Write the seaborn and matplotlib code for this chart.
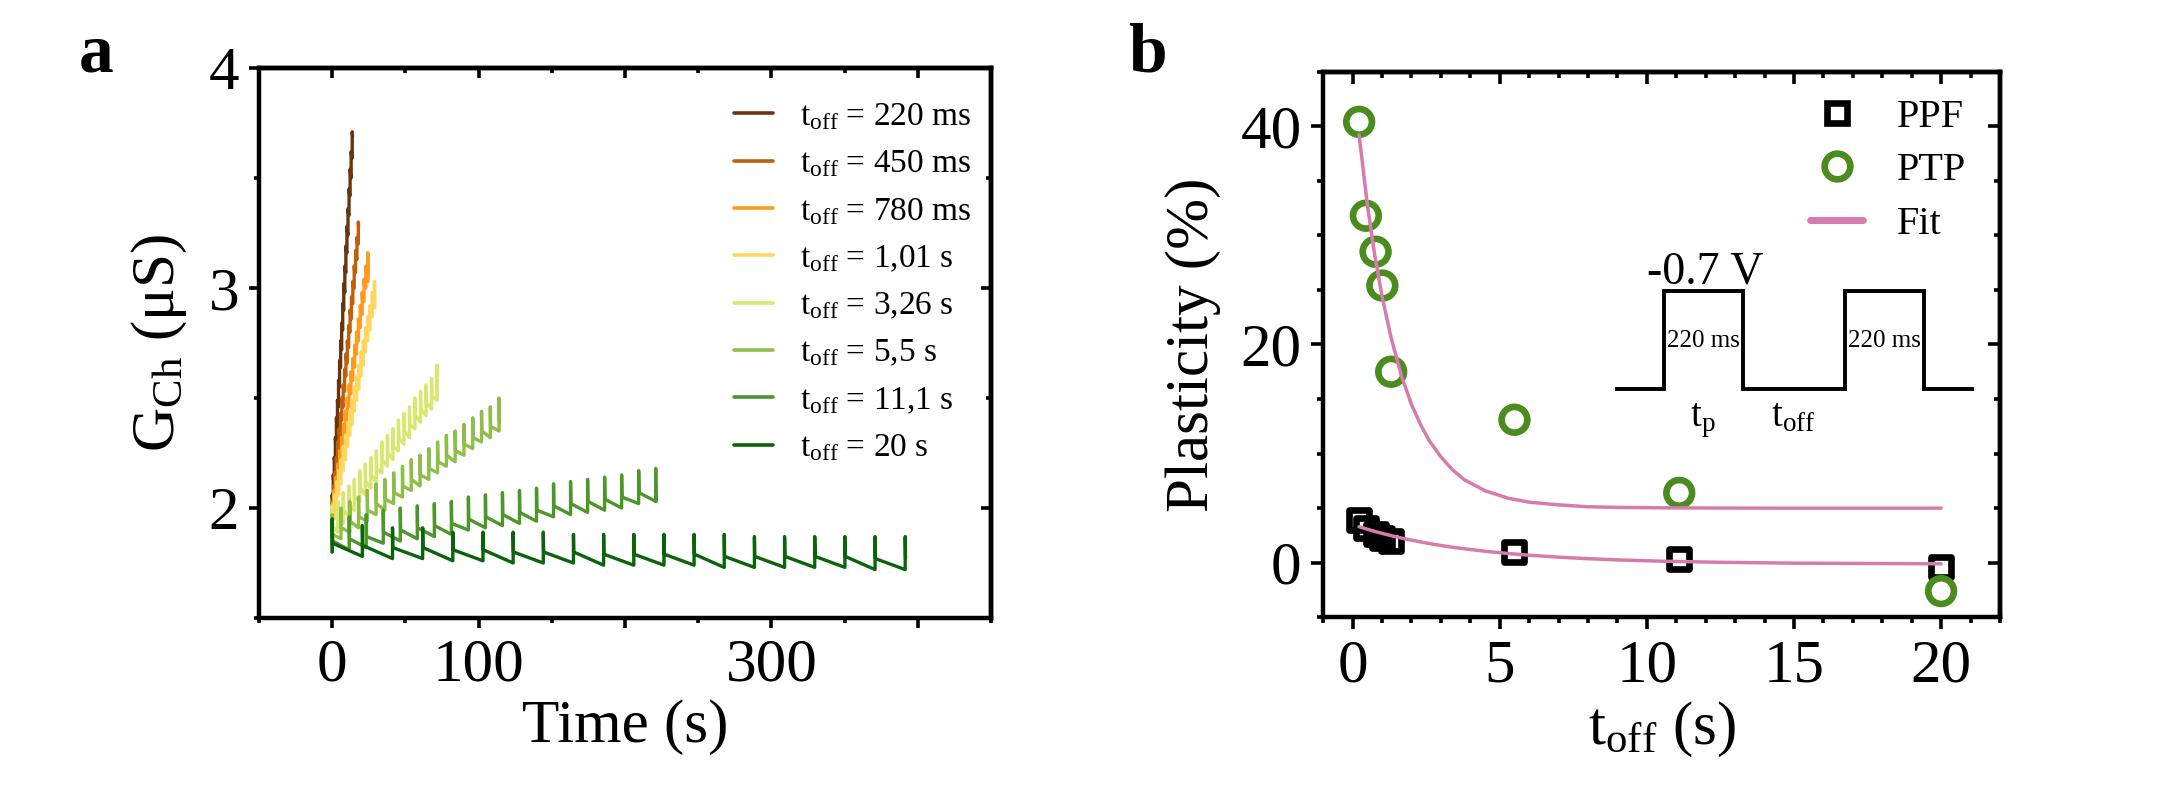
import numpy as np
import pandas as pd
import seaborn as sns
import matplotlib.pyplot as plt
from matplotlib.lines import Line2D
from matplotlib.ticker import MultipleLocator

sns.set_theme(style='ticks')
plt.rcParams['font.family'] = ['Liberation Serif', 'DejaVu Serif']
plt.rcParams['mathtext.fontset'] = 'custom'
plt.rcParams['mathtext.rm'] = 'Liberation Serif'
plt.rcParams['mathtext.it'] = 'Liberation Serif:italic'
plt.rcParams['mathtext.bf'] = 'Liberation Serif:bold'
plt.rcParams.update({'text.color': 'black', 'axes.labelcolor': 'black',
                     'xtick.color': 'black', 'ytick.color': 'black',
                     'axes.edgecolor': 'black'})

# ---------------- panel a: conductance under pulse trains ----------------
series_labels = ['220 ms', '450 ms', '780 ms', '1,01 s', '3,26 s', '5,5 s', '11,1 s', '20 s']
series_colors = ['#673610', '#C0600B', '#FF9A1E', '#FFD75E',
                 '#D8E86E', '#8FBE48', '#4C962A', '#0A640A']
# time between pulse onsets (s), read from spike spacing
pulse_period = [0.72, 0.94, 1.28, 1.52, 3.77, 6.0, 11.63, 20.6]
pulse_width = 0.22

# level just before each pulse, at the pulse top, and right after the pulse (uS)
base_220 = [1.94, 2.03, 2.11, 2.20, 2.29, 2.37, 2.46, 2.55, 2.64, 2.72,
            2.81, 2.90, 2.98, 3.07, 3.16, 3.24, 3.33, 3.42, 3.50, 3.59]
peak_220 = [2.06, 2.15, 2.23, 2.32, 2.41, 2.49, 2.58, 2.67, 2.76, 2.84,
            2.93, 3.02, 3.10, 3.19, 3.28, 3.36, 3.45, 3.54, 3.62, 3.71]
rest_220 = [2.04, 2.13, 2.21, 2.30, 2.39, 2.47, 2.56, 2.65, 2.74, 2.82,
            2.91, 3.00, 3.08, 3.17, 3.26, 3.34, 3.43, 3.52, 3.60, 3.69]

base_450 = [1.93, 2.00, 2.06, 2.13, 2.20, 2.26, 2.33, 2.40, 2.46, 2.53,
            2.60, 2.66, 2.73, 2.80, 2.86, 2.93, 3.00, 3.07, 3.13, 3.20]
peak_450 = [2.03, 2.10, 2.16, 2.23, 2.30, 2.36, 2.43, 2.50, 2.56, 2.63,
            2.70, 2.76, 2.83, 2.90, 2.96, 3.03, 3.10, 3.17, 3.23, 3.30]
rest_450 = [2.01, 2.08, 2.14, 2.21, 2.28, 2.34, 2.41, 2.48, 2.54, 2.61,
            2.68, 2.74, 2.81, 2.88, 2.94, 3.01, 3.08, 3.15, 3.21, 3.28]

base_780 = [1.92, 1.98, 2.04, 2.10, 2.16, 2.22, 2.28, 2.34, 2.40, 2.46,
            2.52, 2.58, 2.64, 2.70, 2.76, 2.82, 2.88, 2.94, 3.00, 3.06]
peak_780 = [2.02, 2.08, 2.14, 2.20, 2.26, 2.32, 2.38, 2.44, 2.50, 2.56,
            2.62, 2.68, 2.74, 2.80, 2.86, 2.92, 2.98, 3.04, 3.10, 3.16]
rest_780 = [1.99, 2.05, 2.11, 2.17, 2.23, 2.29, 2.35, 2.41, 2.47, 2.53,
            2.59, 2.65, 2.71, 2.77, 2.83, 2.89, 2.95, 3.01, 3.07, 3.03]

base_1010 = [1.90, 1.95, 2.01, 2.06, 2.11, 2.17, 2.22, 2.28, 2.33, 2.38,
             2.44, 2.49, 2.54, 2.60, 2.65, 2.71, 2.76, 2.81, 2.87, 2.92]
peak_1010 = [2.01, 2.06, 2.12, 2.17, 2.22, 2.28, 2.33, 2.39, 2.44, 2.49,
             2.55, 2.60, 2.65, 2.71, 2.76, 2.82, 2.87, 2.92, 2.98, 3.03]
rest_1010 = [1.96, 2.01, 2.07, 2.12, 2.17, 2.23, 2.28, 2.34, 2.39, 2.44,
             2.50, 2.55, 2.60, 2.66, 2.71, 2.77, 2.82, 2.87, 2.93, 2.91]

base_3260 = [1.86, 1.89, 1.93, 1.96, 1.99, 2.03, 2.06, 2.09, 2.12, 2.16,
             2.19, 2.22, 2.26, 2.29, 2.32, 2.36, 2.39, 2.42, 2.45, 2.49]
peak_3260 = [2.00, 2.03, 2.07, 2.10, 2.13, 2.17, 2.20, 2.23, 2.26, 2.30,
             2.33, 2.36, 2.40, 2.43, 2.46, 2.50, 2.53, 2.56, 2.59, 2.65]
rest_3260 = [1.92, 1.95, 1.99, 2.02, 2.05, 2.09, 2.12, 2.15, 2.18, 2.22,
             2.25, 2.28, 2.32, 2.35, 2.38, 2.42, 2.45, 2.48, 2.51, 2.53]

base_5500 = [1.83, 1.86, 1.89, 1.91, 1.94, 1.97, 1.99, 2.02, 2.05, 2.08,
             2.10, 2.13, 2.16, 2.19, 2.21, 2.24, 2.27, 2.30, 2.32, 2.35]
peak_5500 = [1.97, 2.00, 2.03, 2.05, 2.08, 2.11, 2.13, 2.16, 2.19, 2.22,
             2.24, 2.27, 2.30, 2.33, 2.35, 2.38, 2.41, 2.44, 2.46, 2.50]
rest_5500 = [1.88, 1.91, 1.94, 1.96, 1.99, 2.02, 2.04, 2.07, 2.10, 2.13,
             2.15, 2.18, 2.21, 2.24, 2.26, 2.29, 2.32, 2.35, 2.37, 2.39]

base_11100 = [1.80, 1.81, 1.82, 1.84, 1.85, 1.86, 1.87, 1.88, 1.90, 1.91,
              1.92, 1.93, 1.94, 1.96, 1.97, 1.98, 1.99, 2.00, 2.02, 2.03]
peak_11100 = [1.95, 1.96, 1.97, 1.99, 2.00, 2.01, 2.02, 2.03, 2.05, 2.06,
              2.07, 2.08, 2.09, 2.11, 2.12, 2.13, 2.14, 2.15, 2.17, 2.18]
rest_11100 = [1.85, 1.86, 1.87, 1.89, 1.90, 1.91, 1.92, 1.93, 1.95, 1.96,
              1.97, 1.98, 1.99, 2.01, 2.02, 2.03, 2.04, 2.05, 2.07, 2.03]

base_20000 = [1.80, 1.78, 1.77, 1.77, 1.76, 1.76, 1.75, 1.75, 1.75, 1.74,
              1.74, 1.74, 1.74, 1.73, 1.73, 1.73, 1.73, 1.73, 1.72, 1.72]
peak_20000 = [1.95, 1.92, 1.91, 1.91, 1.89, 1.89, 1.89, 1.89, 1.88, 1.88,
              1.88, 1.88, 1.88, 1.88, 1.87, 1.87, 1.87, 1.87, 1.87, 1.87]
rest_20000 = [1.84, 1.83, 1.82, 1.82, 1.81, 1.81, 1.80, 1.80, 1.80, 1.79,
              1.79, 1.79, 1.79, 1.78, 1.78, 1.78, 1.78, 1.78, 1.77, 1.77]

bases = [base_220, base_450, base_780, base_1010, base_3260, base_5500, base_11100, base_20000]
peaks = [peak_220, peak_450, peak_780, peak_1010, peak_3260, peak_5500, peak_11100, peak_20000]
rests = [rest_220, rest_450, rest_780, rest_1010, rest_3260, rest_5500, rest_11100, rest_20000]

# ---------------- panel b: plasticity vs t_off ----------------
toff = [0.22, 0.45, 0.78, 1.01, 1.31, 5.5, 11.1, 20.0]
ppf = [3.9, 3.2, 2.6, 2.3, 2.0, 1.0, 0.3, -0.4]
ptp = [40.4, 31.8, 28.5, 25.4, 17.5, 13.1, 6.4, -2.6]

fit_t = [0.22, 0.5, 0.75, 1.0, 1.3, 1.66, 2.0, 2.3, 2.6, 3.0, 3.4,
         3.8, 4.5, 5.3, 6.0, 7.0, 8.0, 9.0, 10.5, 12.5, 15.0, 20.0]
fit_ptp = [39.2, 32.8, 28.2, 24.4, 20.7, 17.1, 14.5, 12.7, 11.2, 9.7, 8.5,
           7.6, 6.6, 5.9, 5.55, 5.3, 5.13, 5.07, 5.03, 5.01, 5.0, 5.0]
fit_ppf = [3.30, 3.07, 2.87, 2.69, 2.49, 2.26, 2.07, 1.91, 1.76, 1.58, 1.42,
           1.28, 1.05, 0.84, 0.69, 0.51, 0.37, 0.26, 0.14, 0.04, -0.04, -0.10]

# inset pulse scheme
pulse_edges = [0, 1.0, 2.6, 4.66, 6.27, 7.29]
pulse_levels = [0, 1, 0, 1, 0]

green = '#4A8C1E'
pink = '#D67BAD'

fig = plt.figure(figsize=(21.6, 7.92), dpi=100)
ax_a = fig.add_axes([0.1199, 0.2197, 0.3389, 0.6944])
ax_b = fig.add_axes([0.6126, 0.2206, 0.3133, 0.6889])


def style_axes(ax, xmin, ymin, lmaj, lmin):
    ax.xaxis.set_minor_locator(MultipleLocator(xmin))
    ax.yaxis.set_minor_locator(MultipleLocator(ymin))
    ax.tick_params(which='both', direction='out', width=2.6, colors='black',
                   labelsize=44, pad=7)
    ax.tick_params(which='major', length=lmaj)
    ax.tick_params(which='minor', length=lmin)
    for s in ax.spines.values():
        s.set_linewidth(3.2)
        s.set_color('black')
    # mirrored ticks on top and right point inwards
    top = ax.secondary_xaxis('top')
    top.set_xticks(ax.get_xticks())
    top.xaxis.set_minor_locator(MultipleLocator(xmin))
    top.tick_params(which='both', direction='in', width=2.6, labeltop=False)
    top.tick_params(which='major', length=lmaj)
    top.tick_params(which='minor', length=lmin)
    top.spines['top'].set_linewidth(3.2)
    right = ax.secondary_yaxis('right')
    right.set_yticks(ax.get_yticks())
    right.yaxis.set_minor_locator(MultipleLocator(ymin))
    right.tick_params(which='both', direction='in', width=2.6, labelright=False)
    right.tick_params(which='major', length=lmaj)
    right.tick_params(which='minor', length=lmin)
    right.spines['right'].set_linewidth(3.2)


# panel a curves
rows = []
for lab, period, base, peak, rest in zip(series_labels, pulse_period, bases, peaks, rests):
    for k in range(len(peak)):
        t = k * period
        rows.append((lab, t, base[k]))
        rows.append((lab, t, peak[k]))
        rows.append((lab, t + pulse_width, rest[k]))
df = pd.DataFrame(rows, columns=['series', 'time', 'G'])

for lab, col in zip(series_labels, series_colors):
    sns.lineplot(data=df[df['series'] == lab], x='time', y='G', ax=ax_a,
                 color=col, lw=2.4, sort=False, estimator=None, legend=False)

ax_a.set_xlim(-50, 450)
ax_a.set_ylim(1.5, 4)
ax_a.set_xticks([0, 100, 200, 300, 400], ['0', '100', '', '300', ''])
ax_a.set_yticks([2, 3, 4])
style_axes(ax_a, 50, 0.5, 7.2, 3.6)
ax_a.set_xlabel('Time (s)', fontsize=44, labelpad=4)
ax_a.set_ylabel(r'$\mathrm{G_{Ch}}$ (μS)', fontsize=44, labelpad=14)

handles_a = [Line2D([], [], color=c, lw=2.6) for c in series_colors]
labels_a = [r'$\mathrm{t_{off}}$ = ' + s for s in series_labels]
ax_a.legend(handles_a, labels_a, loc='upper left', bbox_to_anchor=(0.649, 0.94),
            frameon=False, fontsize=24, handlelength=1.17, handletextpad=0.82,
            labelspacing=0.5, borderpad=0, borderaxespad=0)

# panel b
sns.scatterplot(x=toff, y=ppf, ax=ax_b, marker='s', s=14.4 ** 2, facecolor='none',
                edgecolor='black', linewidth=4.8, zorder=3, legend=False)
sns.scatterplot(x=toff, y=ptp, ax=ax_b, marker='o', s=18.5 ** 2, facecolor='none',
                edgecolor=green, linewidth=4.8, zorder=3, legend=False)
sns.lineplot(x=fit_t, y=fit_ptp, ax=ax_b, color=pink, lw=2.5, zorder=4, sort=False, estimator=None)
sns.lineplot(x=fit_t, y=fit_ppf, ax=ax_b, color=pink, lw=2.5, zorder=4, sort=False, estimator=None)

ax_b.set_xlim(-1, 22)
ax_b.set_ylim(-5, 45)
ax_b.set_xticks([0, 5, 10, 15, 20])
ax_b.set_yticks([0, 20, 40])
style_axes(ax_b, 1, 5, 8.6, 4.3)
ax_b.set_xlabel(r'$\mathrm{t_{off}}$ (s)', fontsize=44, labelpad=4)
ax_b.set_ylabel('Plasticity (%)', fontsize=44, labelpad=14)

handles_b = [Line2D([], [], marker='s', ls='none', ms=14.4, mew=4.8, mfc='none', mec='black'),
             Line2D([], [], marker='o', ls='none', ms=18.5, mew=4.8, mfc='none', mec=green),
             Line2D([], [], color=pink, lw=5)]
ax_b.legend(handles_b, ['PPF', 'PTP', 'Fit'], loc='upper left', bbox_to_anchor=(0.719, 0.95),
            frameon=False, fontsize=29, handlelength=1.33, handletextpad=0.84,
            labelspacing=0.4, borderpad=0, borderaxespad=0, numpoints=1)

# inset pulse scheme
ax_in = fig.add_axes([1615 / 2160, 1 - 389 / 792, 359.3 / 2160, 98.3 / 792])
ax_in.stairs(pulse_levels, pulse_edges, baseline=None, color='black', lw=2.8, clip_on=False)
ax_in.set_xlim(pulse_edges[0], pulse_edges[-1])
ax_in.set_ylim(0, 1)
ax_in.axis('off')
ax_in.text(1.82, 1.075, '-0.7 V', fontsize=33, ha='center', va='baseline')
ax_in.text(1.8, 0.43, '220 ms', fontsize=18, ha='center', va='baseline')
ax_in.text(5.47, 0.43, '220 ms', fontsize=18, ha='center', va='baseline')
ax_in.text(1.79, -0.38, r'$\mathrm{t_{p}}$', fontsize=28, ha='center', va='baseline')
ax_in.text(3.63, -0.38, r'$\mathrm{t_{off}}$', fontsize=28, ha='center', va='baseline')

fig.text(78.5 / 2160, 1 - 71 / 792, 'a', fontsize=50, fontweight='bold', va='baseline')
fig.text(1128 / 2160, 1 - 71 / 792, 'b', fontsize=50, fontweight='bold', va='baseline')

fig.savefig('out.png', dpi=100)
